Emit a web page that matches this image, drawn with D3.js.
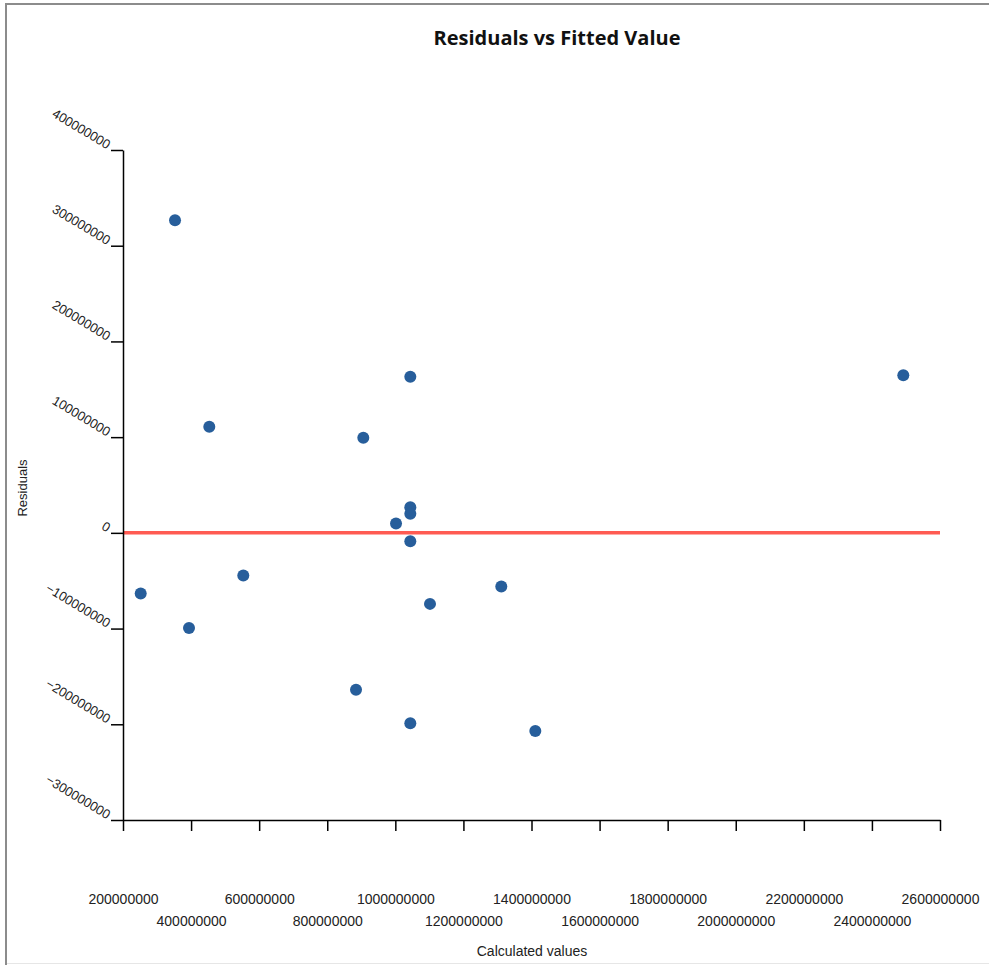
<!DOCTYPE html>
<html>
<head>
<meta charset="utf-8">
<script src="https://cdn.jsdelivr.net/npm/d3@7"></script>
<style>
  body { margin: 0; background: #fff; }
  svg { display: block; }
  .tick text { font-family: "Liberation Sans", Arial, sans-serif; fill: #222; }
</style>
</head>
<body>
<div id="chart"></div>
<script>
// fitted (calculated) values and their residuals
var fitted = [252e6, 352.8e6, 393.9e6, 453.5e6, 553.4e6, 884.5e6, 905.9e6, 1002e6, 1044e6,
              1044e6, 1044e6, 1044e6, 1044e6, 1101.8e6, 1311.3e6, 1411.2e6, 2492.2e6];
var residuals = [-63.4e6, 326.6e6, -99.3e6, 110.8e6, -44.6e6, -164e6, 99.3e6, 9.7e6, 163e6,
                 26.7e6, 19.9e6, -8.8e6, -198.9e6, -74.2e6, -56.1e6, -206.9e6, 164.7e6];

var xTicks = [200e6, 400e6, 600e6, 800e6, 1000e6, 1200e6, 1400e6, 1600e6, 1800e6, 2000e6, 2200e6, 2400e6, 2600e6];
var yTicks = [-300e6, -200e6, -100e6, 0, 100e6, 200e6, 300e6, 400e6];

var width = 989, height = 965;

var svg = d3.select('#chart').append('svg')
    .attr('width', width)
    .attr('height', height);

// frame
svg.append('line').attr('x1', 6).attr('x2', 6).attr('y1', 4).attr('y2', height)
    .style('stroke', '#8c8c8c').style('stroke-width', 2);
svg.append('line').attr('x1', 5).attr('x2', width).attr('y1', 4).attr('y2', 4)
    .style('stroke', '#8c8c8c').style('stroke-width', 2);
svg.append('line').attr('x1', 7).attr('x2', width).attr('y1', 963.5).attr('y2', 963.5)
    .style('stroke', '#e6e6e6').style('stroke-width', 1);

var x = d3.scaleLinear().domain([200e6, 2600e6]).range([123, 940]);
var y = d3.scaleLinear().domain([-300e6, 400e6]).range([820, 150]);

// zero line
svg.append('line')
    .attr('x1', x(200e6)).attr('x2', x(2600e6))
    .attr('y1', y(0)).attr('y2', y(0))
    .style('stroke', '#ff5b52')
    .style('stroke-width', 3.5);

// x axis
var xAxis = svg.append('g')
    .attr('transform', 'translate(0,' + y(-300e6) + ')')
    .call(d3.axisBottom(x).tickValues(xTicks).tickSize(11).tickSizeOuter(0).tickFormat(d3.format('d')));
xAxis.selectAll('text')
    .attr('dy', 0)
    .attr('y', (d, i) => i % 2 == 0 ? 84 : 106)
    .style('font-size', '14px');

// y axis
var yAxis = svg.append('g')
    .attr('transform', 'translate(' + x(200e6) + ',0)')
    .call(d3.axisLeft(y).tickValues(yTicks).tickSize(12).tickSizeOuter(0).tickFormat(d3.format('d')));
yAxis.selectAll('text')
    .attr('x', 0).attr('y', 0).attr('dy', 0)
    .attr('transform', 'translate(-16,-1) rotate(31)')
    .style('font-size', '13px');
svg.selectAll('.domain, .tick line').style('stroke', '#000').style('stroke-width', 1.5);

// points
svg.selectAll('circle')
    .data(fitted)
    .enter().append('circle')
    .attr('cx', d => x(d))
    .attr('cy', (d, i) => y(residuals[i]))
    .attr('r', 6)
    .style('fill', '#275e9b');

// titles
svg.append('text')
    .attr('x', 557).attr('y', 45)
    .attr('text-anchor', 'middle')
    .style('font-family', '"Open Sans", sans-serif')
    .style('font-weight', 'bold')
    .style('font-size', '20px')
    .style('fill', '#111')
    .text('Residuals vs Fitted Value');

svg.append('text')
    .attr('x', 532).attr('y', 956)
    .attr('text-anchor', 'middle')
    .style('font-family', '"Liberation Sans", Arial, sans-serif')
    .style('font-size', '14px')
    .style('fill', '#222')
    .text('Calculated values');

svg.append('text')
    .attr('transform', 'translate(27,488) rotate(-90)')
    .attr('text-anchor', 'middle')
    .style('font-family', '"Liberation Sans", Arial, sans-serif')
    .style('font-size', '13px')
    .style('fill', '#222')
    .text('Residuals');
</script>
</body>
</html>
